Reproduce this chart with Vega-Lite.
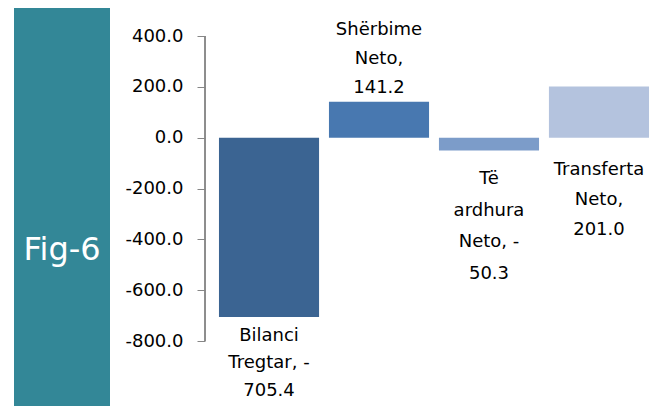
{
  "$schema": "https://vega.github.io/schema/vega-lite/v6.json",
  "padding": {"left": 14, "top": 8, "right": 0, "bottom": 0},
  "spacing": 14,
  "config": {"font": "DejaVu Sans", "view": {"stroke": null}},
  "hconcat": [
    {
      "width": 96,
      "height": 398,
      "view": {"fill": "#338797", "stroke": null},
      "data": {"values": [{"t": "Fig-6"}]},
      "mark": {"type": "text", "color": "#ffffff", "fontSize": 32, "font": "DejaVu Sans", "baseline": "middle", "align": "center", "dy": 43},
      "encoding": {"text": {"field": "t"}}
    },
    {
      "width": 458,
      "height": 333,
      "data": {"values": [
        {"k": "Bilanci Tregtar", "v": -705.4, "label": "Bilanci\nTregtar, -\n705.4"},
        {"k": "Shërbime Neto", "v": 141.2, "label": "Shërbime\nNeto,\n141.2"},
        {"k": "Të ardhura Neto", "v": -50.3, "label": "Të\nardhura\nNeto, -\n50.3"},
        {"k": "Transferta Neto", "v": 201.0, "label": "Transferta\nNeto,\n201.0"}
      ]},
      "resolve": {"scale": {"x": "independent"}},
      "layer": [
        {
          "mark": {"type": "rule", "color": "#868686", "strokeWidth": 1},
          "encoding": {
            "x": {"datum": 0, "type": "quantitative", "axis": null, "scale": {"domain": [0, 1], "zero": false, "nice": false}},
            "y": {"datum": -800, "type": "quantitative",
                  "scale": {"domain": [-800, 510.2], "nice": false, "zero": false},
                  "axis": {"title": null, "grid": false, "values": [-800, -600, -400, -200, 0, 200, 400],
                           "labelExpr": "replace(format(datum.value, '.1f'), '\u2212', '-')",
                           "domain": false, "tickColor": "#868686", "tickSize": 8,
                           "labelFontSize": 18, "labelColor": "#000000", "labelPadding": 14, "labelFont": "DejaVu Sans"}},
            "y2": {"datum": 400}
          }
        },
        {
          "encoding": {
            "x": {"field": "k", "type": "nominal", "sort": null, "axis": null,
                  "scale": {"paddingInner": 0.09, "paddingOuter": 0.127}},
            "y": {"field": "v", "type": "quantitative"}
          },
          "layer": [
            {
              "mark": {"type": "bar"},
              "encoding": {
                "color": {"field": "k", "type": "nominal", "legend": null,
                          "scale": {"domain": ["Bilanci Tregtar", "Shërbime Neto", "Të ardhura Neto", "Transferta Neto"],
                                    "range": ["#3b6492", "#4878b0", "#7c9cc9", "#b4c3de"]}}
              }
            },
            {
              "transform": [{"filter": "datum.k === 'Bilanci Tregtar'"}],
              "mark": {"type": "text", "lineBreak": "\n", "baseline": "top", "dy": 10, "fontSize": 18, "lineHeight": 27.5, "color": "#000000"},
              "encoding": {"text": {"field": "label"}}
            },
            {
              "transform": [{"filter": "datum.k === 'Shërbime Neto'"}],
              "mark": {"type": "text", "lineBreak": "\n", "baseline": "top", "dy": -81, "fontSize": 18, "lineHeight": 29, "color": "#000000"},
              "encoding": {"text": {"field": "label"}}
            },
            {
              "transform": [{"filter": "datum.k === 'Të ardhura Neto'"}],
              "mark": {"type": "text", "lineBreak": "\n", "baseline": "top", "dy": 20, "fontSize": 18, "lineHeight": 31.5, "color": "#000000"},
              "encoding": {"text": {"field": "label"}}
            },
            {
              "transform": [{"filter": "datum.k === 'Transferta Neto'"}],
              "mark": {"type": "text", "lineBreak": "\n", "baseline": "top", "dy": 74, "fontSize": 18, "lineHeight": 30, "color": "#000000"},
              "encoding": {"text": {"field": "label"}}
            }
          ]
        }
      ]
    }
  ]
}
